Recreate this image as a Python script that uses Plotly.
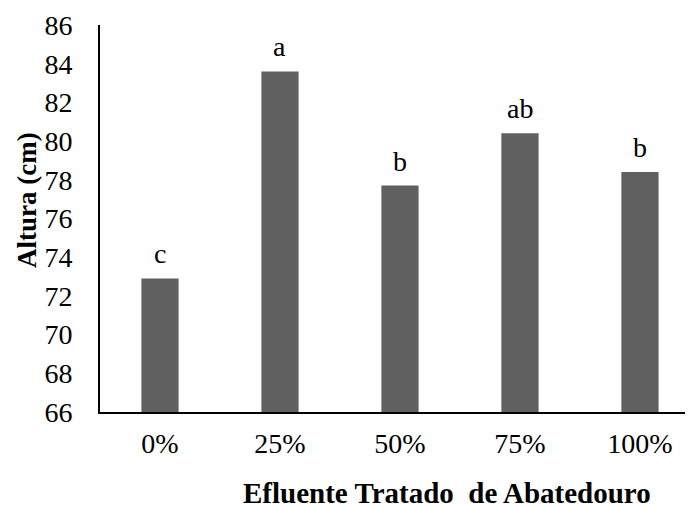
import plotly.graph_objects as go

categories = ["0%", "25%", "50%", "75%", "100%"]
altura = [72.9, 83.6, 77.7, 80.4, 78.4]
letters = ["c", "a", "b", "ab", "b"]
y_ticks = [66, 68, 70, 72, 74, 76, 78, 80, 82, 84, 86]

SERIF = "Times New Roman, Liberation Serif, serif"

fig = go.Figure()
fig.add_trace(go.Bar(x=categories, y=altura, marker=dict(color="#606060", line=dict(width=0)),
                     width=0.31))
for c, v, t in zip(categories, altura, letters):
    fig.add_annotation(x=c, y=v, text=t, showarrow=False, yanchor="bottom", yshift=7,
                       font=dict(family=SERIF, size=28, color="black"))

fig.update_layout(
    width=685, height=499,
    margin=dict(l=92, r=0, t=17, b=95),
    paper_bgcolor="white", plot_bgcolor="white",
    showlegend=False,
    font=dict(family=SERIF, color="black"),
)
fig.update_xaxes(range=[-0.5, 4.442], showline=True, linecolor="black", linewidth=2,
                 tickfont=dict(size=28, family=SERIF), ticks="",
                 ticklabelstandoff=5, showgrid=False)
fig.update_yaxes(range=[66, 86], tickvals=y_ticks, showline=True, linecolor="black", linewidth=2,
                 tickfont=dict(size=28, family=SERIF), ticks="",
                 ticklabelstandoff=20, showgrid=False, zeroline=False)
fig.add_annotation(text="<b>Altura (cm)</b>", xref="paper", yref="paper", textangle=-90,
                   x=-(92 - 19) / 593, y=(412 - 200) / 387, xanchor="center", yanchor="middle",
                   showarrow=False, font=dict(size=27, family=SERIF, color="black"))
fig.add_annotation(text="<b>Efluente Tratado  de Abatedouro</b>", xref="paper", yref="paper",
                   x=(447 - 100) / 593, y=-(493 - 412) / 387, xanchor="center", yanchor="middle",
                   showarrow=False, font=dict(size=29, family=SERIF, color="black"))

fig.write_html("out.html")
